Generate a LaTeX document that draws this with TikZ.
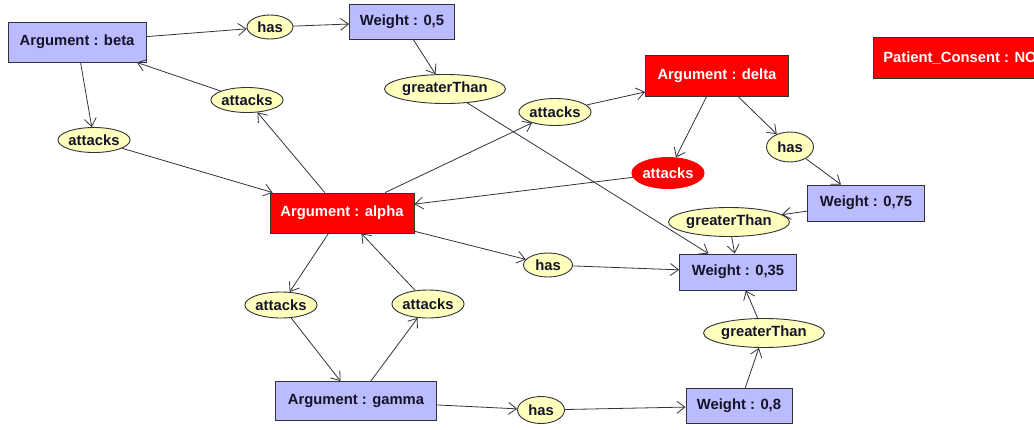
\documentclass[tikz,border=0pt]{standalone}
\usepackage{fontspec}
\setmainfont{Liberation Sans}
\usetikzlibrary{shapes.geometric,arrows.meta}
\definecolor{boxblue}{RGB}{187,187,255}
\definecolor{relyellow}{RGB}{255,255,190}
\definecolor{hotred}{RGB}{255,0,0}
\definecolor{inkline}{RGB}{50,50,60}
\definecolor{inktext}{RGB}{20,20,40}
\tikzset{
  base/.style={font=\fontsize{14.8}{16}\selectfont\bfseries, inner sep=0pt, text=inktext, draw=inkline, line width=0.9pt},
  concept/.style={base, rectangle, fill=boxblue},
  hotconcept/.style={base, rectangle, fill=hotred, text=white},
  relation/.style={base, ellipse, fill=relyellow},
  hotrelation/.style={base, ellipse, fill=hotred, draw=hotred, text=white},
  link/.style={draw=inkline, line width=0.8pt, -{Straight Barb[length=8pt,width=12pt,line width=0.8pt]}}
}
\begin{document}
\begin{tikzpicture}[x=1pt,y=-1pt]
\useasboundingbox (0,0) rectangle (1034,429);
\clip (0,0) rectangle (1034,429);

% concept boxes
\node[concept, minimum width=138pt, minimum height=40pt] (beta)  at (77,42)  {Argument : beta};
\node[concept, minimum width=105pt, minimum height=35pt] (w05)   at (402,22) {Weight : 0,5};
\node[hotconcept, minimum width=143pt, minimum height=41pt] (delta) at (717,76) {Argument : delta};
\node[hotconcept, minimum width=174pt, minimum height=41pt] (consent) at (960,58) {Patient\_Consent : NO};
\node[concept, minimum width=117pt, minimum height=36pt] (w075)  at (866,203) {Weight : 0,75};
\node[hotconcept, minimum width=144pt, minimum height=40pt] (alpha) at (342,213) {Argument : alpha};
\node[concept, minimum width=117pt, minimum height=36pt] (w035)  at (738,272) {Weight : 0,35};
\node[concept, minimum width=161pt, minimum height=39pt] (gamma) at (356,401) {Argument : gamma};
\node[concept, minimum width=106pt, minimum height=35pt] (w08)   at (739,406) {Weight : 0,8};

% relation ellipses
\node[relation, minimum width=46pt, minimum height=24pt] (hasb)  at (270,27)  {has};
\node[relation, minimum width=101pt, minimum height=29pt] (gt1)  at (445,89)  {greaterThan};
\node[relation, minimum width=65pt, minimum height=27pt] (attad) at (555,112) {attacks};
\node[hotrelation, minimum width=69pt, minimum height=31pt] (attda) at (668,173) {attacks};
\node[relation, minimum width=47pt, minimum height=30pt] (hasd)  at (790,147) {has};
\node[relation, minimum width=98pt, minimum height=29pt] (gt2)   at (729,222) {greaterThan};
\node[relation, minimum width=100pt, minimum height=29pt] (gt3)  at (764,333) {greaterThan};
\node[relation, minimum width=69pt, minimum height=25pt] (attba) at (94,140)  {attacks};
\node[relation, minimum width=68pt, minimum height=25pt] (attab) at (247,100) {attacks};
\node[relation, minimum width=69pt, minimum height=26pt] (attag) at (281,305) {attacks};
\node[relation, minimum width=64pt, minimum height=28pt] (attga) at (428,304) {attacks};
\node[relation, minimum width=49pt, minimum height=24pt] (hasa)  at (548,265) {has};
\node[relation, minimum width=47pt, minimum height=27pt] (hasg)  at (541,410) {has};

% connectors
\draw[link] (beta) -- (hasb);
\draw[link] (hasb) -- (w05);
\draw[link] (w05) -- (gt1);
\draw[link] (gt1) -- (w035);
\draw[link] (beta) -- (attba);
\draw[link] (attba) -- (alpha);
\draw[link] (alpha) -- (attab);
\draw[link] (attab) -- (beta);
\draw[link] (alpha) -- (attad);
\draw[link] (attad) -- (delta);
\draw[link] (delta) -- (attda);
\draw[link] (attda) -- (alpha);
\draw[link] (delta) -- (hasd);
\draw[link] (hasd) -- (w075);
\draw[link] (w075) -- (gt2);
\draw[link] (gt2) -- (w035);
\draw[link] (alpha) -- (hasa);
\draw[link] (hasa) -- (w035);
\draw[link] (alpha) -- (attag);
\draw[link] (attag) -- (gamma);
\draw[link] (gamma) -- (attga);
\draw[link] (attga) -- (alpha);
\draw[link] (gamma) -- (hasg);
\draw[link] (hasg) -- (w08);
\draw[link] (w08) -- (gt3);
\draw[link] (gt3) -- (w035);
\end{tikzpicture}
\end{document}
